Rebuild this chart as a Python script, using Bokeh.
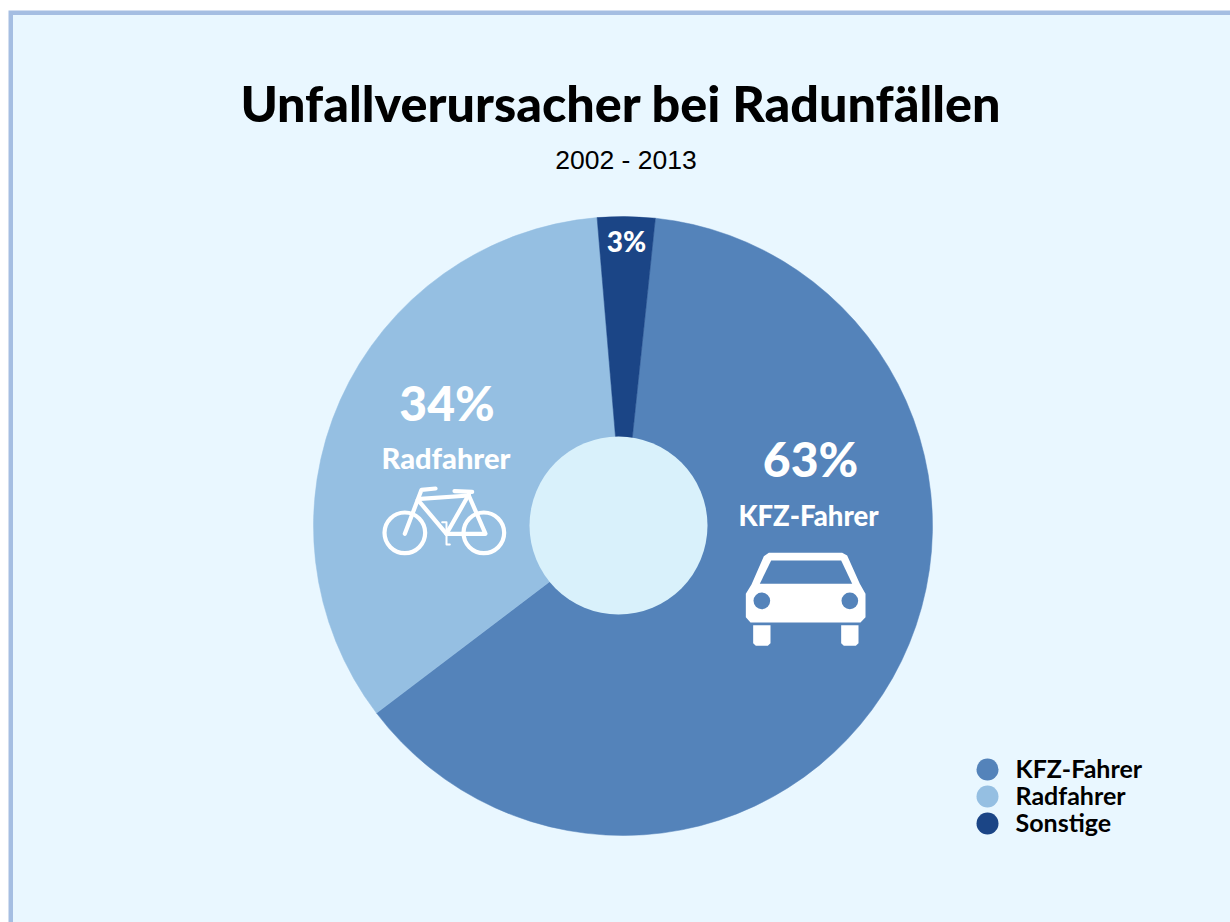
import math
from bokeh.plotting import figure
from bokeh.embed import file_html
from bokeh.resources import INLINE
from bokeh.models import Range1d, Label

categories = ["KFZ-Fahrer", "Radfahrer", "Sonstige"]
shares = [63, 34, 3]
colors = ["#5483BA", "#95BFE2", "#1B4586"]
title = "Unfallverursacher bei Radunfällen"
subtitle = "2002 - 2013"
NARROW = "Lato"
HEAVY = "Lato Black"

W, H = 1230, 922
def X(px): return px
def Y(py): return 922 - py

p = figure(width=W, height=H, output_backend="svg", toolbar_location=None,
           x_range=Range1d(0, W), y_range=Range1d(0, H), min_border=0,
           background_fill_color="white", border_fill_color="white")
p.axis.visible = False
p.grid.visible = False
p.outline_line_color = None

# panel
p.quad(left=[X(8)], right=[X(1230)], top=[Y(10)], bottom=[Y(922)], color="#A5BEE2", line_color=None)
p.quad(left=[X(12.5)], right=[X(1230)], top=[Y(14.5)], bottom=[Y(922)], color="#E9F7FF", line_color=None)

# donut
cx, cy, r = X(622.5), Y(525.5), 309.5
a = 84.0
for c, s, col in zip(categories, shares, colors):
    e = a - s * 3.6
    p.wedge(x=[cx], y=[cy], radius=r, start_angle=math.radians(a), end_angle=math.radians(e),
            direction="clock", fill_color=col, line_color=col, line_width=0.5, name=c)
    a = e
p.circle(x=[X(618)], y=[Y(525)], radius=89, fill_color="#D9F1FB", line_color=None)

def text(px, py, s, size, color="white", font=NARROW, style="bold", align="center"):
    p.add_layout(Label(x=X(px), y=Y(py), text=s, text_font=font, text_font_size=f"{size}px",
                       text_font_style=style, text_color=color, text_align=align,
                       text_baseline="alphabetic"))

text(620.5, 102, title, 50.3, color="black", font=HEAVY)
text(625.5, 159, subtitle, 26.5, color="black", font="Liberation Sans", style="normal")
text(810, 458, f"{shares[0]}%", 48, font=HEAVY)
text(808, 515, categories[0], 27.5, font=HEAVY)
text(446.5, 402, f"{shares[1]}%", 48, font=HEAVY)
text(445.5, 457, categories[1], 29, font=HEAVY)
text(626, 240, f"{shares[2]}%", 28, font=HEAVY)

# legend
for i, (c, col) in enumerate(zip(categories, colors)):
    p.circle(x=[X(987)], y=[Y(769 + i * 27)], radius=11, fill_color=col, line_color=None)
    text(1015, 767 + i * 27, c, 25, color="black", align="left")

# car icon, traced in zoom coordinates
def cxp(z): return X(700 + z / 3)
def cyp(z): return Y(420 + z / 3)
car_x = [205, 425, 440, 478, 495, 495, 480, 150, 136, 136, 153, 190]
car_y = [397, 397, 405, 490, 520, 590, 606, 606, 590, 520, 492, 407]
shield_x = [212, 422, 455, 178]
shield_y = [420, 420, 490, 490]
p.patch([cxp(v) for v in car_x], [cyp(v) for v in car_y], color="white", line_color=None)
p.patch([cxp(v) for v in shield_x], [cyp(v) for v in shield_y], color=colors[0], line_color=None)
for zx in (184, 448):
    p.circle(x=[cxp(zx)], y=[cyp(541)], radius=25 / 3, fill_color=colors[0], line_color=None)
for zl in (158, 422):
    zr = zl + 52
    xs = [zl, zr, zr, zr - 8, zl + 8, zl]
    ys = [614, 614, 668, 676, 676, 668]
    p.patch([cxp(v) for v in xs], [cyp(v) for v in ys], color="white", line_color=None)

# bicycle icon, traced in zoom coordinates
def bxp(z): return X(360 + z / 3)
def byp(z): return Y(370 + z / 3)
for zx in (133, 370):
    p.circle(x=[bxp(zx)], y=[byp(487)], radius=61 / 3, fill_color=None, line_color="white", line_width=4.2)
bike_paths = [
    ([133, 183, 225], [490, 358, 354]),
    ([172, 258, 375, 325, 180], [388, 490, 490, 375, 385]),
    ([258, 325], [490, 372]),
    ([282, 335], [362, 364]),
    ([245, 258, 258, 268], [455, 455, 522, 522]),
]
for xs, ys in bike_paths:
    lw = 2 if xs[0] == 245 else 4.2
    p.line([bxp(v) for v in xs], [byp(v) for v in ys], line_color="white", line_width=lw, line_join="round", line_cap="round")

open("out.html", "w").write(file_html(p, INLINE))
